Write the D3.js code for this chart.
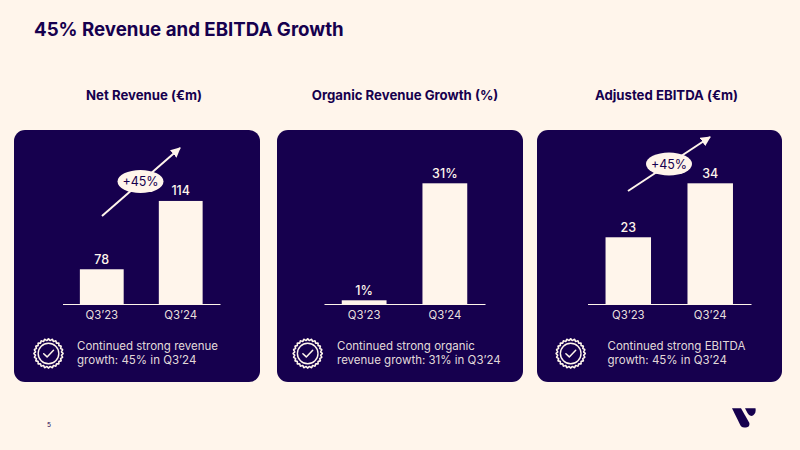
<!DOCTYPE html>
<html>
<head>
<meta charset="utf-8">
<script src="https://cdn.jsdelivr.net/npm/d3@7"></script>
<style>
  html, body { margin: 0; padding: 0; background: #fff5eb; }
  svg { display: block; }
  text { font-family: Inter, "Noto Sans", sans-serif; }
</style>
</head>
<body>
<svg id="slide" width="800" height="450"></svg>
<script>
// Slide content
const slideTitle = "45% Revenue and EBITDA Growth";
const pageNumber = "5";
const quarters = ["Q3’23", "Q3’24"];

const panelTitles = ["Net Revenue (€m)", "Organic Revenue Growth (%)", "Adjusted EBITDA (€m)"];
const netRevenue = [78, 114];
const organicGrowth = [1, 31];
const adjustedEbitda = [23, 34];
const valueSuffixes = ["", "%", ""];
const growthBadges = ["+45%", null, "+45%"];
const captions = [
  ["Continued strong revenue", "growth: 45% in Q3’24"],
  ["Continued strong organic", "revenue growth: 31% in Q3’24"],
  ["Continued strong EBITDA", "growth: 45% in Q3’24"]
];

// The value axes are truncated, as on the original slide
const valueDomains = [[59.7, 123.3], [0.05, 31], [9.4, 34]];

const navy = "#16004e";
const cream = "#fff5eb";

// Layout of each panel: card box, axis extent, badge and arrow placement
const panels = [
  { series: netRevenue, titleX: 144, cardX: 14, cardW: 246, axis: [62.5, 220], captionX: 77, sealX: 48.5,
    arrow: [[102, 216], [180, 148]], pill: [140.5, 181.5] },
  { series: organicGrowth, titleX: 405, cardX: 277, cardW: 246, axis: [324, 485], captionX: 337, sealX: 307.7,
    arrow: null, pill: null },
  { series: adjustedEbitda, titleX: 666.5, cardX: 537, cardW: 245, axis: [587.5, 751], captionX: 607.5, sealX: 570.7,
    arrow: [[628, 191], [710, 137]], pill: [669, 164] }
];

const svg = d3.select("#slide");
const baseY = 304, topY = 183.3;

svg.append("rect").attr("width", 800).attr("height", 450).attr("fill", cream);

svg.append("text").attr("x", 34).attr("y", 36)
  .attr("font-size", 18.7).attr("font-weight", 700).attr("fill", navy)
  .text(slideTitle);

svg.append("text").attr("x", 47).attr("y", 427)
  .attr("font-size", 6.5).attr("fill", navy)
  .text(pageNumber);

// Arrowhead shared by the growth arrows
svg.append("defs").append("marker")
  .attr("id", "head").attr("viewBox", "0 0 10 10")
  .attr("refX", 9).attr("refY", 5)
  .attr("markerUnits", "userSpaceOnUse")
  .attr("markerWidth", 10).attr("markerHeight", 10)
  .attr("orient", "auto")
  .append("path").attr("d", "M0,0L10,5L0,10Z").attr("fill", cream);

// Scalloped seal outline
function sealPath(r, bumps, depth) {
  const pts = d3.range(bumps * 2).map(i => [
    i / (bumps * 2) * 2 * Math.PI,
    i % 2 ? r - depth : r
  ]);
  return d3.lineRadial().curve(d3.curveCardinalClosed)(pts);
}

panels.forEach((p, idx) => {
  const g = svg.append("g");

  g.append("text")
    .attr("x", p.titleX).attr("y", 100)
    .attr("text-anchor", "middle")
    .attr("font-size", 13.2).attr("font-weight", 700).attr("fill", navy)
    .text(panelTitles[idx]);

  g.append("rect")
    .attr("x", p.cardX).attr("y", 130)
    .attr("width", p.cardW).attr("height", 252)
    .attr("rx", 11).attr("fill", navy);

  const x = d3.scaleBand().domain(quarters).range(p.axis)
    .paddingInner(0.445).paddingOuter(0.22);
  const y = d3.scaleLinear().domain(valueDomains[idx]).range([baseY, topY]);

  const rows = quarters.map((q, i) => ({ q, v: p.series[i] }));

  g.selectAll("rect.bar").data(rows).join("rect")
    .attr("class", "bar")
    .attr("x", d => x(d.q)).attr("width", x.bandwidth())
    .attr("y", d => y(d.v)).attr("height", d => baseY - y(d.v))
    .attr("fill", cream);

  g.selectAll("text.value").data(rows).join("text")
    .attr("class", "value")
    .attr("x", d => x(d.q) + x.bandwidth() / 2)
    .attr("y", d => y(d.v) - 5.5)
    .attr("text-anchor", "middle")
    .attr("font-size", 12.5).attr("font-weight", 500).attr("fill", cream)
    .text(d => d.v + valueSuffixes[idx]);

  const axis = g.append("g")
    .attr("transform", `translate(0,${baseY})`)
    .call(d3.axisBottom(x).tickSize(0).tickPadding(7).tickSizeOuter(0));
  axis.select(".domain").attr("stroke", cream).attr("stroke-width", 1);
  axis.selectAll("text")
    .attr("font-size", 11.4).attr("fill", cream).attr("fill-opacity", 0.92)
    .style("font-family", "Inter, 'Noto Sans', sans-serif");

  if (p.arrow) {
    g.append("path")
      .attr("d", d3.line()(p.arrow))
      .attr("stroke", cream).attr("stroke-width", 2)
      .attr("fill", "none").attr("marker-end", "url(#head)");
    g.append("ellipse")
      .attr("cx", p.pill[0]).attr("cy", p.pill[1])
      .attr("rx", 23).attr("ry", 11.5).attr("fill", cream);
    g.append("text")
      .attr("x", p.pill[0]).attr("y", p.pill[1] + 4.5)
      .attr("text-anchor", "middle")
      .attr("font-size", 12.5).attr("fill", navy)
      .text(growthBadges[idx]);
  }

  // Seal with tick beside the caption
  const seal = g.append("g").attr("transform", `translate(${p.sealX},353.5)`)
    .attr("fill", "none").attr("stroke", cream);
  seal.append("path").attr("d", sealPath(14.6, 24, 1.5)).attr("stroke-width", 1.6);
  seal.append("circle").attr("r", 10.3).attr("stroke-width", 1.4);
  seal.append("path").attr("d", "M-4.8,0.2L-1.4,3.4L5,-3.2")
    .attr("stroke-width", 1.5).attr("stroke-linecap", "round").attr("stroke-linejoin", "round");

  g.selectAll("text.caption").data(captions[idx]).join("text")
    .attr("class", "caption")
    .attr("x", p.captionX)
    .attr("y", (d, i) => 350 + i * 14.3)
    .attr("font-size", 11.5).attr("fill", cream).attr("fill-opacity", 0.9)
    .text(d => d);
});

// Brand mark, bottom right
const logo = svg.append("g").attr("fill", navy);
logo.append("path")
  .attr("d", "M732,408.3L741,408.3L749.4,423Q750,427 746,427.5L744,427.5Q741.5,427.5 740.5,425.5Z");
logo.append("path")
  .attr("d", "M745,408.3L755.5,408.3Q756.5,413 753,415.5Q749.5,417 747.5,413Z");
</script>
</body>
</html>
